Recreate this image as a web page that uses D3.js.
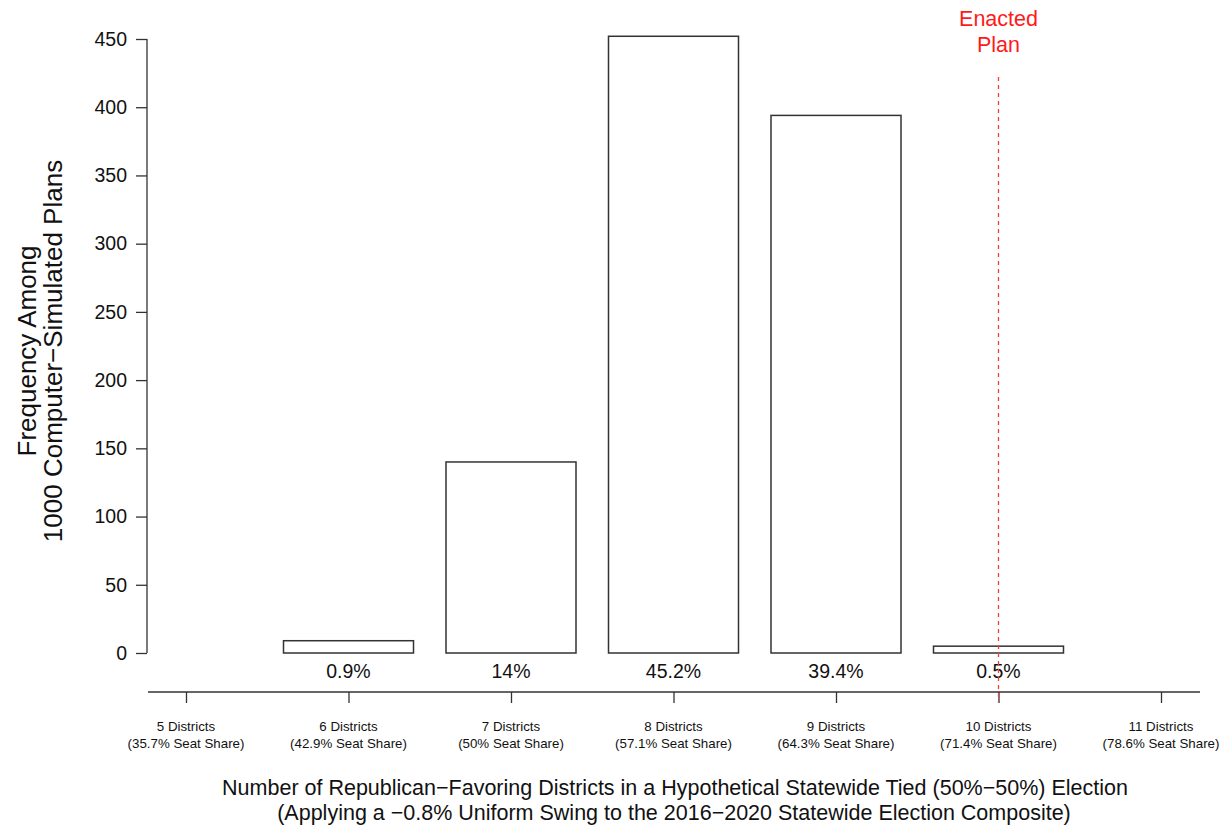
<!DOCTYPE html>
<html><head><meta charset="utf-8">
<script src="https://cdn.jsdelivr.net/npm/d3@7"></script>
<style>body{margin:0;background:#fff}svg{font-family:"Liberation Sans",Arial,Helvetica,sans-serif}</style>
</head><body><svg id="c" width="1228" height="829"></svg>
<script>
const districts = [5, 6, 7, 8, 9, 10, 11];
const seatShares = ["35.7%", "42.9%", "50%", "57.1%", "64.3%", "71.4%", "78.6%"];
const barDistricts = [6, 7, 8, 9, 10];
const frequencies = [9, 140, 452, 394, 5];
const percentLabels = ["0.9%", "14%", "45.2%", "39.4%", "0.5%"];
const yTicks = [0, 50, 100, 150, 200, 250, 300, 350, 400, 450];
const enacted = 10;

const svg = d3.select("#c");
const x = d3.scaleLinear().domain([5, 11]).range([186, 1161]);
const y = d3.scaleLinear().domain([0, 450]).range([653, 39]);
const step = x(6) - x(5);
const bw = step * 0.8;

// bars
svg.append("g").selectAll("rect").data(barDistricts).join("rect")
  .attr("x", d => x(d) - bw / 2)
  .attr("y", (d, i) => y(frequencies[i]))
  .attr("width", bw)
  .attr("height", (d, i) => y(0) - y(frequencies[i]))
  .attr("fill", "#fff").attr("stroke", "#333").attr("stroke-width", 1.5);

// percent labels
svg.append("g").selectAll("text").data(barDistricts).join("text")
  .attr("x", d => x(d)).attr("y", 678)
  .attr("text-anchor", "middle").attr("font-size", 19.5).attr("fill", "#111")
  .text((d, i) => percentLabels[i]);

// y axis
const ya = svg.append("g").attr("transform", "translate(147,0)")
  .call(d3.axisLeft(y).tickValues(yTicks).tickSize(11).tickPadding(9));
ya.select(".domain").attr("d", `M0,${y(450)}V${y(0)}`).attr("stroke", "#333").attr("stroke-width", 1.3);
ya.selectAll(".tick line").attr("stroke", "#333").attr("stroke-width", 1.3);
ya.selectAll(".tick text").attr("font-size", 19.5).attr("fill", "#111").attr("font-family", "Liberation Sans, Arial, sans-serif");

// x axis
const xa = svg.append("g").attr("transform", "translate(0,692)")
  .call(d3.axisBottom(x).tickValues(districts).tickSize(11).tickFormat(""));
xa.select(".domain").attr("d", "M148,0H1200").attr("stroke", "#333").attr("stroke-width", 1.3);
xa.selectAll(".tick line").attr("stroke", "#333").attr("stroke-width", 1.3);
const xl = svg.append("g").selectAll("text").data(districts).join("text")
  .attr("x", d => x(d)).attr("text-anchor", "middle").attr("font-size", 13.3).attr("fill", "#111");
xl.append("tspan").attr("x", d => x(d)).attr("y", 731).text(d => d + " Districts");
xl.append("tspan").attr("x", d => x(d)).attr("y", 748).text((d, i) => "(" + seatShares[i] + " Seat Share)");

// enacted plan line
svg.append("line").attr("x1", x(enacted)).attr("x2", x(enacted)).attr("y1", 77).attr("y2", 702)
  .attr("stroke", "#ff3b3b").attr("stroke-width", 1.3).attr("stroke-dasharray", "4,4");
svg.append("text").attr("x", x(enacted)).attr("y", 26).attr("text-anchor", "middle")
  .attr("font-size", 21.5).attr("fill", "#ff1a1a").text("Enacted");
svg.append("text").attr("x", x(enacted)).attr("y", 52).attr("text-anchor", "middle")
  .attr("font-size", 21.5).attr("fill", "#ff1a1a").text("Plan");

// titles
svg.append("text").attr("transform", "translate(36,351) rotate(-90)").attr("text-anchor", "middle")
  .attr("font-size", 26).attr("fill", "#111").text("Frequency Among");
svg.append("text").attr("transform", "translate(62,351) rotate(-90)").attr("text-anchor", "middle")
  .attr("font-size", 26).attr("fill", "#111").text("1000 Computer\u2212Simulated Plans");
svg.append("text").attr("x", 675).attr("y", 795).attr("text-anchor", "middle")
  .attr("font-size", 21.5).attr("fill", "#111")
  .text("Number of Republican\u2212Favoring Districts in a Hypothetical Statewide Tied (50%\u221250%) Election");
svg.append("text").attr("x", 674).attr("y", 820).attr("text-anchor", "middle")
  .attr("font-size", 21.5).attr("fill", "#111")
  .text("(Applying a \u22120.8% Uniform Swing to the 2016\u22122020 Statewide Election Composite)");
</script></body></html>
